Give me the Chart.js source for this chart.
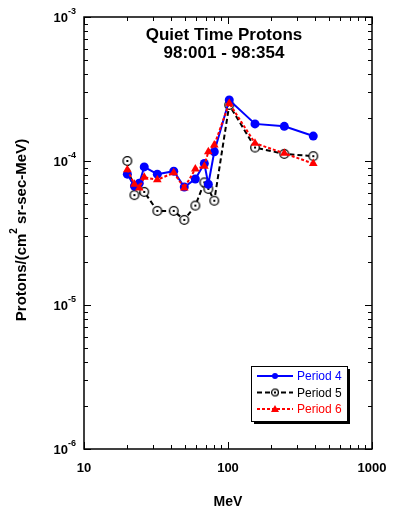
<!DOCTYPE html>
<html>
<head>
<meta charset="utf-8">
<script src="https://cdn.jsdelivr.net/npm/chart.js@4"></script>
<style>
  html, body { margin: 0; background: #fff; }
</style>
</head>
<body>
<canvas id="myChart" width="393" height="515"></canvas>
<script>
// energies (MeV) and fluxes
const energies = [20, 22.4, 24.2, 26.2, 32.3, 42, 49.7, 59.3, 68.5, 73, 80.3, 102, 154, 246, 391];
const period4 = [8.1e-5, 6.7e-5, 7.0e-5, 9.1e-5, 8.1e-5, 8.5e-5, 6.6e-5, 7.5e-5, 9.6e-5, 6.9e-5, 1.16e-4, 2.65e-4, 1.81e-4, 1.74e-4, 1.49e-4];
const period5 = [1.0e-4, 5.8e-5, 6.1e-5, 4.5e-5, 4.5e-5, 3.9e-5, 4.9e-5, 7.1e-5, 6.4e-5, 5.3e-5, 2.45e-4, 1.24e-4, 1.12e-4, 1.08e-4];
const period5Energies = [20, 22.4, 26.2, 32.3, 42, 49.7, 59.3, 68.5, 73, 80.3, 102, 154, 246, 391];
const period6 = [8.7e-5, 6.9e-5, 6.5e-5, 7.7e-5, 7.4e-5, 8.3e-5, 6.5e-5, 8.8e-5, 9.2e-5, 1.16e-4, 1.29e-4, 2.52e-4, 1.33e-4, 1.13e-4, 9.6e-5];

const xTickValues = [10, 100, 1000];
const yTickValues = [1e-6, 1e-5, 1e-4, 1e-3];
const yTickExponents = ["-6", "-5", "-4", "-3"];
const seriesNames = ["Period 4", "Period 5", "Period 6"];

const FONT = "'Liberation Sans', Arial, Helvetica, sans-serif";

function pairs(xs, ys) {
  return xs.map((x, i) => ({ x: x, y: ys[i] }));
}

// open circle with a dot in the middle
function ringDot(r) {
  const c = document.createElement("canvas");
  const s = Math.ceil(r * 2 + 3);
  c.width = s; c.height = s;
  const g = c.getContext("2d");
  g.fillStyle = "#fff";
  g.strokeStyle = "#000";
  g.lineWidth = 1.3;
  g.beginPath();
  g.arc(s / 2, s / 2, r, 0, Math.PI * 2);
  g.fill();
  g.stroke();
  g.fillStyle = "#000";
  g.fillRect(s / 2 - 1, s / 2 - 1, 2, 2);
  return c;
}
const ringImg = ringDot(4.3);
const ringSmall = ringDot(3.4);

const frame = {
  id: "frame",
  afterDraw(chart) {
    const ctx = chart.ctx;
    const a = chart.chartArea;
    const xs = chart.scales.x, ys = chart.scales.y;
    ctx.save();
    ctx.strokeStyle = "#000";
    ctx.fillStyle = "#000";
    ctx.lineWidth = 1.5;
    ctx.strokeRect(a.left, a.top, a.right - a.left, a.bottom - a.top);

    // inward ticks, all four sides
    ctx.lineWidth = 1;
    ctx.beginPath();
    for (let d = 10; d <= 1000; d *= 10) {
      for (let m = 1; m <= 9; m++) {
        const v = d * m;
        if (v > 1000) break;
        const px = Math.round(xs.getPixelForValue(v)) + 0.5;
        const len = m === 1 ? 7 : 4;
        ctx.moveTo(px, a.bottom); ctx.lineTo(px, a.bottom - len);
        ctx.moveTo(px, a.top); ctx.lineTo(px, a.top + len);
      }
    }
    for (let d = 1e-6; d <= 1.001e-3; d *= 10) {
      for (let m = 1; m <= 9; m++) {
        const v = d * m;
        if (v > 1.001e-3) break;
        const py = Math.round(ys.getPixelForValue(v)) + 0.5;
        const len = m === 1 ? 7 : 4;
        ctx.moveTo(a.left, py); ctx.lineTo(a.left + len, py);
        ctx.moveTo(a.right, py); ctx.lineTo(a.right - len, py);
      }
    }
    ctx.stroke();

    // x tick labels
    ctx.font = "bold 13px " + FONT;
    ctx.textAlign = "center";
    ctx.textBaseline = "middle";
    xTickValues.forEach(v => {
      ctx.fillText(String(v), xs.getPixelForValue(v), a.bottom + 19);
    });
    ctx.font = "bold 14px " + FONT;
    ctx.fillText("MeV", (a.left + a.right) / 2, a.bottom + 53);

    // y tick labels 10^n
    yTickValues.forEach((v, i) => {
      const py = ys.getPixelForValue(v);
      ctx.font = "bold 9px " + FONT;
      const we = ctx.measureText(yTickExponents[i]).width;
      ctx.textAlign = "right";
      ctx.fillText(yTickExponents[i], a.left - 8, py - 5);
      ctx.font = "bold 13px " + FONT;
      ctx.fillText("10", a.left - 8 - we, py + 1);
    });

    // y axis title with superscript
    ctx.save();
    ctx.translate(22, (a.top + a.bottom) / 2 - 3);
    ctx.rotate(-Math.PI / 2);
    const p1 = "Protons/(cm", p2 = "2", p3 = " sr-sec-MeV)";
    ctx.font = "bold 15px " + FONT;
    const w1 = ctx.measureText(p1).width, w3 = ctx.measureText(p3).width;
    ctx.font = "bold 10px " + FONT;
    const w2 = ctx.measureText(p2).width;
    let x0 = -(w1 + w2 + w3) / 2;
    ctx.textAlign = "left";
    ctx.font = "bold 15px " + FONT;
    ctx.fillText(p1, x0, 0);
    ctx.font = "bold 10px " + FONT;
    ctx.fillText(p2, x0 + w1, -8);
    ctx.font = "bold 15px " + FONT;
    ctx.fillText(p3, x0 + w1 + w2, 0);
    ctx.restore();

    // title
    ctx.font = "bold 17px " + FONT;
    ctx.textAlign = "center";
    const cx = (a.left + a.right) / 2 - 4;
    ctx.fillText("Quiet Time Protons", cx, 35);
    ctx.fillText("98:001 - 98:354", cx, 53);

    // legend box with shadow
    const lx = 251, ly = 366, lw = 96, lh = 55;
    ctx.fillRect(lx + 3, ly + 3, lw, lh);
    ctx.fillStyle = "#fff";
    ctx.fillRect(lx, ly, lw, lh);
    ctx.lineWidth = 1;
    ctx.strokeRect(lx + 0.5, ly + 0.5, lw, lh);
    ctx.font = "12px " + FONT;
    ctx.textAlign = "left";
    chart.data.datasets.forEach((ds, i) => {
      const yy = ly + 10 + i * 16.5;
      ctx.strokeStyle = ds.borderColor;
      ctx.lineWidth = 2;
      ctx.setLineDash(ds.borderDash || []);
      ctx.beginPath();
      ctx.moveTo(lx + 6, yy); ctx.lineTo(lx + 42, yy);
      ctx.stroke();
      ctx.setLineDash([]);
      const mx = lx + 24;
      if (i === 0) {
        ctx.fillStyle = ds.borderColor;
        ctx.beginPath(); ctx.arc(mx, yy, 3, 0, Math.PI * 2); ctx.fill();
      } else if (i === 1) {
        ctx.drawImage(ringSmall, mx - ringSmall.width / 2, yy - ringSmall.height / 2);
      } else {
        ctx.fillStyle = ds.borderColor;
        ctx.beginPath(); ctx.moveTo(mx, yy - 4); ctx.lineTo(mx + 4, yy + 3); ctx.lineTo(mx - 4, yy + 3); ctx.closePath(); ctx.fill();
      }
      ctx.fillStyle = ds.borderColor;
      ctx.fillText(seriesNames[i], lx + 46, yy + 1);
    });
    ctx.restore();
  }
};

new Chart(document.getElementById("myChart").getContext("2d"), {
  type: "line",
  data: {
    datasets: [
      {
        label: seriesNames[0],
        data: pairs(energies, period4),
        borderColor: "#0000ff",
        backgroundColor: "#0000ff",
        borderWidth: 2,
        pointStyle: "circle",
        pointRadius: 4.5,
        pointBorderWidth: 0,
        order: 2
      },
      {
        label: seriesNames[1],
        data: pairs(period5Energies, period5),
        borderColor: "#000000",
        backgroundColor: "#ffffff",
        borderWidth: 2,
        borderDash: [5, 3],
        pointStyle: ringImg,
        order: 3
      },
      {
        label: seriesNames[2],
        data: pairs(energies, period6),
        borderColor: "#ff0000",
        backgroundColor: "#ff0000",
        borderWidth: 2,
        borderDash: [3, 2],
        pointStyle: "triangle",
        pointRadius: 5,
        pointBorderWidth: 0,
        order: 1
      }
    ]
  },
  options: {
    responsive: false,
    devicePixelRatio: 1,
    animation: false,
    layout: { padding: { left: 84, top: 17, right: 21, bottom: 66 } },
    elements: { line: { tension: 0 } },
    plugins: { legend: { display: false }, tooltip: { enabled: false } },
    scales: {
      x: { type: "logarithmic", min: 10, max: 1000, display: false },
      y: { type: "logarithmic", min: 1e-6, max: 1e-3, display: false }
    }
  },
  plugins: [frame]
});
</script>
</body>
</html>
